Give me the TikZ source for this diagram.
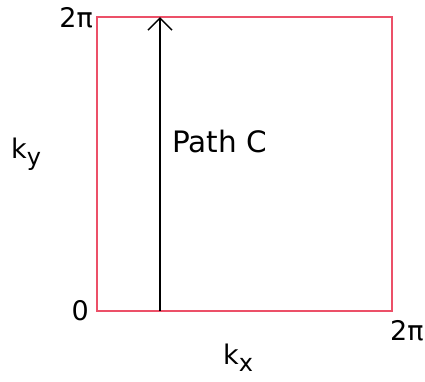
\documentclass[tikz,border=0pt]{standalone}
\usepackage{fontspec}
\setmainfont{DejaVu Sans}
\usetikzlibrary{arrows.meta, positioning}
\definecolor{zoneRed}{RGB}{236, 80, 104}

\begin{document}
\begin{tikzpicture}[
    x=1pt, y=-1pt,
    axislabel/.style={
        font=\fontsize{27}{31}\selectfont,
        inner sep=0pt
    },
    zone/.style={
        draw=zoneRed,
        line width=1.6pt
    },
    pathline/.style={
        draw=black,
        line width=1.5pt,
        -{Straight Barb[length=12pt, width=24pt, line width=1.5pt]}
    }
]
\useasboundingbox (0,0) rectangle (425,381);

% Brillouin zone
\draw[zone] (97,17) rectangle (392,311);

% Path C along k_y
\coordinate (cstart) at (160,311);
\coordinate (cend) at (160,17);
\draw[pathline] (cstart) -- (cend);
\node[axislabel, anchor=west, font=\fontsize{29.5}{34}\selectfont] (pathc) at (172,141) {Path C};

% Tick labels
\node[axislabel, anchor=east] (ytop) at (93,18) {2π};
\node[axislabel, anchor=east] (origin) at (89,311) {0};
\node[axislabel, anchor=west] (xright) at (390,331) {2π};

% Axis labels
\node[axislabel, anchor=west] (ky) at (11,154) {k\raisebox{-0.45ex}{\fontsize{24}{28}\selectfont y}};
\node[axislabel, anchor=west] (kx) at (223,358) {k\raisebox{-0.45ex}{\fontsize{24}{28}\selectfont x}};

\end{tikzpicture}
\end{document}
